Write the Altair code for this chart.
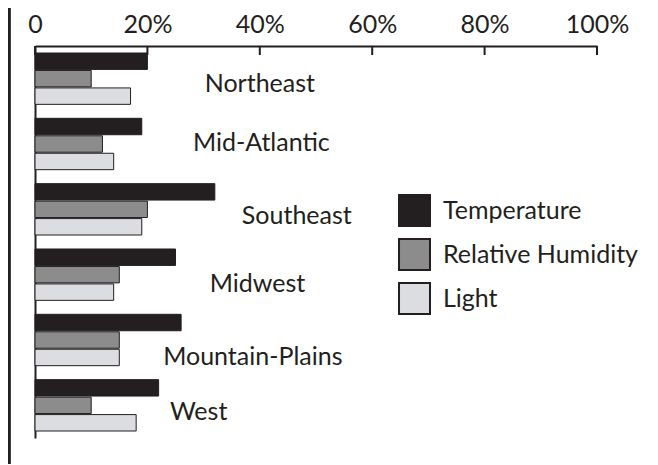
import altair as alt
import pandas as pd

regions = ["Northeast", "Mid-Atlantic", "Southeast", "Midwest", "Mountain-Plains", "West"]
measures = ["Temperature", "Relative Humidity", "Light"]
temperature = [20, 19, 32, 25, 26, 22]
humidity = [10, 12, 20, 15, 15, 10]
light = [17, 14, 19, 14, 15, 18]
tick_values = [0, 20, 40, 60, 80, 100]

# label anchor positions (x in percent, y in group units from the top)
label_x = [30.2, 28.1, 36.8, 31.1, 22.8, 24.0]
label_y = [0.70, 1.60, 2.72, 3.76, 4.88, 5.73]

colors = ["#231f20", "#8c8c8c", "#dcdde0"]
INK = "#231f20"
FONT = "Lato"
FS = 25

rows = []
for i, r in enumerate(regions):
    for m, vals in zip(measures, [temperature, humidity, light]):
        rows.append({"region": r, "measure": m, "value": vals[i]})
df = pd.DataFrame(rows)
labels_df = pd.DataFrame({"region": regions, "lx": label_x, "ly": label_y})
ticks_df = pd.DataFrame({"t": tick_values})

W, H = 562, 392

bars = alt.Chart(df).mark_bar(stroke=INK, strokeWidth=1).encode(
    x=alt.X("value:Q", scale=alt.Scale(domain=[0, 100], nice=False, zero=True),
            axis=alt.Axis(orient="top", values=tick_values, title=None,
                          labelExpr="datum.value == 0 ? '0' : datum.value + '%'",
                          labelPadding=9, ticks=False, domainWidth=2, domainColor=INK,
                          labelFont=FONT, labelFontSize=FS, labelFlush=False,
                          labelOverlap=False, labelColor=INK, grid=False)),
    y=alt.Y("region:N", sort=regions, scale=alt.Scale(paddingInner=0, paddingOuter=0),
            axis=alt.Axis(title=None, labels=False, ticks=False, domainWidth=2,
                          domainColor=INK, grid=False)),
    yOffset=alt.YOffset("measure:N", sort=measures,
                        scale=alt.Scale(paddingInner=0.06, paddingOuter=0.4)),
    color=alt.Color("measure:N", sort=measures,
                    scale=alt.Scale(domain=measures, range=colors),
                    legend=alt.Legend(title=None, orient="none", legendX=363, legendY=148,
                                      symbolType="square", symbolSize=960,
                                      symbolStrokeColor=INK, symbolStrokeWidth=2,
                                      symbolOpacity=1, labelLimit=300,
                                      labelFont=FONT, labelFontSize=FS,
                                      labelColor=INK,
                                      labelOffset=12, rowPadding=5, padding=0)),
)

ticks = alt.Chart(ticks_df).mark_rule(color=INK, strokeWidth=2).encode(
    x=alt.X("t:Q"),
    y=alt.value(0),
    y2=alt.value(9),
)

texts = alt.Chart(labels_df).mark_text(
    align="left", baseline="alphabetic", font=FONT, fontSize=FS, color=INK
).encode(
    x=alt.X("lx:Q"),
    y=alt.Y("ly:Q", scale=alt.Scale(domain=[0, 6], reverse=True, nice=False, zero=True),
            axis=None),
    text="region:N",
)

border = alt.Chart(ticks_df).mark_rule(color=INK, strokeWidth=2.5).encode(
    x=alt.value(-26),
    y=alt.value(-40),
    y2=alt.value(H + 30),
)

chart = alt.layer(ticks, bars, texts, border).resolve_scale(
    y="independent"
).properties(
    width=W, height=H,
    background="white",
    autosize=alt.AutoSizeParams(type="none"),
    padding={"left": 27, "top": 38, "right": 45, "bottom": 26},
).configure_view(stroke=None)

chart.save("out.html", embed_options={"renderer": "svg", "actions": False})
